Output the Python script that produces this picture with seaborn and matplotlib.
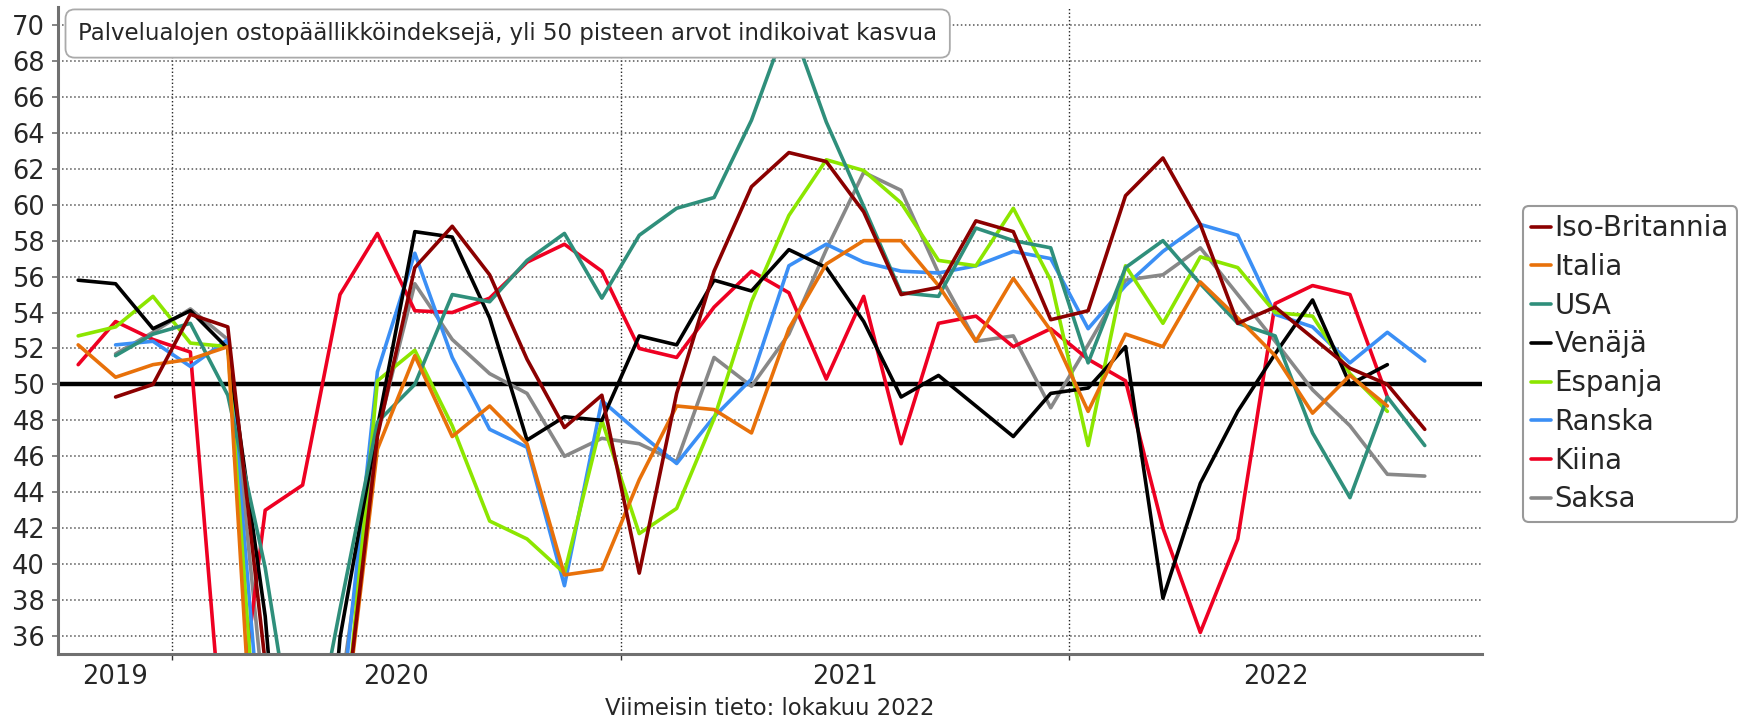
import pandas as pd
import numpy as np
import matplotlib
matplotlib.use("Agg")
import matplotlib.pyplot as plt
import seaborn as sns

# kuukaudet lokakuu 2019 - lokakuu 2022
kuukaudet = pd.period_range("2019-10", "2022-10", freq="M")

iso_britannia = [None, 49.3, 50.0, 53.9, 53.2, 34.5, 13.4, 29.0, 47.1, 56.5, 58.8, 56.1, 51.4, 47.6, 49.4,
                 39.5, 49.5, 56.3, 61.0, 62.9, 62.4, 59.6, 55.0, 55.4, 59.1, 58.5, 53.6,
                 54.1, 60.5, 62.6, 58.9, 53.4, 54.3, 52.6, 50.9, 50.0, 47.5]
italia = [52.2, 50.4, 51.1, 51.4, 52.1, 17.4, 10.8, 28.9, 46.4, 51.6, 47.1, 48.8, 46.7, 39.4, 39.7,
          44.7, 48.8, 48.6, 47.3, 53.1, 56.7, 58.0, 58.0, 55.5, 52.4, 55.9, 53.0,
          48.5, 52.8, 52.1, 55.7, 53.7, 51.6, 48.4, 50.5, 48.8, None]
usa = [None, 51.6, 52.8, 53.4, 49.4, 39.8, 26.7, 37.5, 47.9, 50.0, 55.0, 54.6, 56.9, 58.4, 54.8,
       58.3, 59.8, 60.4, 64.7, 70.4, 64.6, 59.9, 55.1, 54.9, 58.7, 58.0, 57.6,
       51.2, 56.5, 58.0, 55.6, 53.4, 52.7, 47.3, 43.7, 49.3, 46.6]
venaja = [55.8, 55.6, 53.1, 54.1, 52.0, 37.1, 12.2, 35.9, 47.6, 58.5, 58.2, 53.7, 46.9, 48.2, 48.0,
          52.7, 52.2, 55.8, 55.2, 57.5, 56.5, 53.5, 49.3, 50.5, 48.8, 47.1, 49.5,
          49.8, 52.1, 38.1, 44.5, 48.5, 51.7, 54.7, 50.0, 51.1, None]
espanja = [52.7, 53.2, 54.9, 52.3, 52.1, 23.0, 7.1, 27.9, 50.2, 51.9, 47.7, 42.4, 41.4, 39.5, 48.0,
           41.7, 43.1, 48.1, 54.6, 59.4, 62.5, 61.9, 60.1, 56.9, 56.6, 59.8, 55.8,
           46.6, 56.6, 53.4, 57.1, 56.5, 54.0, 53.8, 50.6, 48.5, None]
ranska = [None, 52.2, 52.4, 51.0, 52.5, 27.4, 10.2, 31.1, 50.7, 57.3, 51.5, 47.5, 46.5, 38.8, 49.1,
          47.3, 45.6, 48.2, 50.3, 56.6, 57.8, 56.8, 56.3, 56.2, 56.6, 57.4, 57.0,
          53.1, 55.5, 57.4, 58.9, 58.3, 53.9, 53.2, 51.2, 52.9, 51.3]
kiina = [51.1, 53.5, 52.5, 51.8, 26.5, 43.0, 44.4, 55.0, 58.4, 54.1, 54.0, 54.8, 56.8, 57.8, 56.3,
         52.0, 51.5, 54.3, 56.3, 55.1, 50.3, 54.9, 46.7, 53.4, 53.8, 52.1, 53.1,
         51.4, 50.2, 42.0, 36.2, 41.4, 54.5, 55.5, 55.0, 49.3, None]
saksa = [None, 51.7, 52.9, 54.2, 52.5, 31.7, 16.2, 32.6, 47.3, 55.6, 52.5, 50.6, 49.5, 46.0, 47.0,
         46.7, 45.7, 51.5, 49.9, 52.8, 57.5, 61.8, 60.8, 56.2, 52.4, 52.7, 48.7,
         52.2, 55.8, 56.1, 57.6, 55.0, 52.4, 49.7, 47.7, 45.0, 44.9]

maat = ["Iso-Britannia", "Italia", "USA", "Venäjä", "Espanja", "Ranska", "Kiina", "Saksa"]
varit = {"Iso-Britannia": "#8b0000", "Italia": "#e8710a", "USA": "#2f8f7b", "Venäjä": "#000000",
         "Espanja": "#8ce600", "Ranska": "#3b8ff5", "Kiina": "#ee0022", "Saksa": "#888888"}
vuodet = [2019, 2020, 2021, 2022]

df = pd.DataFrame({"Iso-Britannia": iso_britannia, "Italia": italia, "USA": usa, "Venäjä": venaja,
                   "Espanja": espanja, "Ranska": ranska, "Kiina": kiina, "Saksa": saksa})
# kuukauden keskikohta, 0 = vuoden 2020 alku
df["x"] = [(p.year - 2020) * 12 + p.month - 0.5 for p in kuukaudet]
pitka = df.melt(id_vars="x", var_name="maa", value_name="arvo").dropna()

sns.set_theme(style="white")
plt.rcParams["font.family"] = ["DejaVu Sans"]

W, H = 1738, 719
fig = plt.figure(figsize=(W / 100, H / 100), dpi=100)
ax = fig.add_axes([57.6 / W, 1 - 654 / H, (1482 - 57.6) / W, (654 - 7) / H])

# piirretään käänteisessä järjestyksessä, Iso-Britannia päällimmäiseksi
sns.lineplot(data=pitka, x="x", y="arvo", hue="maa", hue_order=maat[::-1], palette=varit,
             linewidth=2.6, errorbar=None, ax=ax)

ax.axhline(50, color="black", linewidth=3.2, zorder=1.8)

xmin, xmax = -3.05, 35.03
ax.set_xlim(xmin, xmax)
ax.set_ylim(35, 71)
ax.set_yticks(np.arange(36, 71, 2))
ax.tick_params(axis="y", labelsize=18.5, length=4, width=1.2, color="#707070", pad=5, left=True)

rajat = [0, 12, 24]
keskit = [(xmin + 0) / 2, 6, 18, (24 + xmax) / 2]
ax.set_xticks(rajat)
ax.set_xticklabels([])
ax.set_xticks(keskit, minor=True)
ax.set_xticklabels([str(v) for v in vuodet], minor=True)
ax.tick_params(axis="x", which="major", length=4, width=1, color="#333333", bottom=True)
ax.tick_params(axis="x", which="minor", length=0, labelsize=18.5, pad=7)

ax.grid(axis="y", linestyle=":", color="#555555", linewidth=1.1)
ax.grid(axis="x", which="major", linestyle=":", color="#222222", linewidth=1.0)
ax.set_axisbelow(True)

for s in ["top", "right"]:
    ax.spines[s].set_visible(False)
for s in ["left", "bottom"]:
    ax.spines[s].set_color("#707070")
    ax.spines[s].set_linewidth(2.2)

ax.set_ylabel("")
ax.set_xlabel("Viimeisin tieto: lokakuu 2022", fontsize=16.4, labelpad=5)

ax.text(0.0144, 0.9590, "Palvelualojen ostopäällikköindeksejä, yli 50 pisteen arvot indikoivat kasvua",
        transform=ax.transAxes, fontsize=16.5, va="center", ha="left", zorder=5,
        bbox=dict(boxstyle="round,pad=0.55,rounding_size=0.4", facecolor="white", edgecolor="#aaaaaa", linewidth=1.3))

kahvat, nimet = ax.get_legend_handles_labels()
jarj = [nimet.index(m) for m in maat]
ax.legend([kahvat[i] for i in jarj], [nimet[i] for i in jarj],
          loc="upper left", bbox_to_anchor=(1523 / W, 1 - 206 / H), bbox_transform=fig.transFigure,
          fontsize=19.8, handlelength=0.7, handletextpad=0.15, labelspacing=0.39, borderpad=0.3,
          borderaxespad=0, frameon=True, fancybox=True, framealpha=1, edgecolor="#999999")
ax.get_legend().get_frame().set_linewidth(1.5)

fig.savefig("out.png", dpi=100)
